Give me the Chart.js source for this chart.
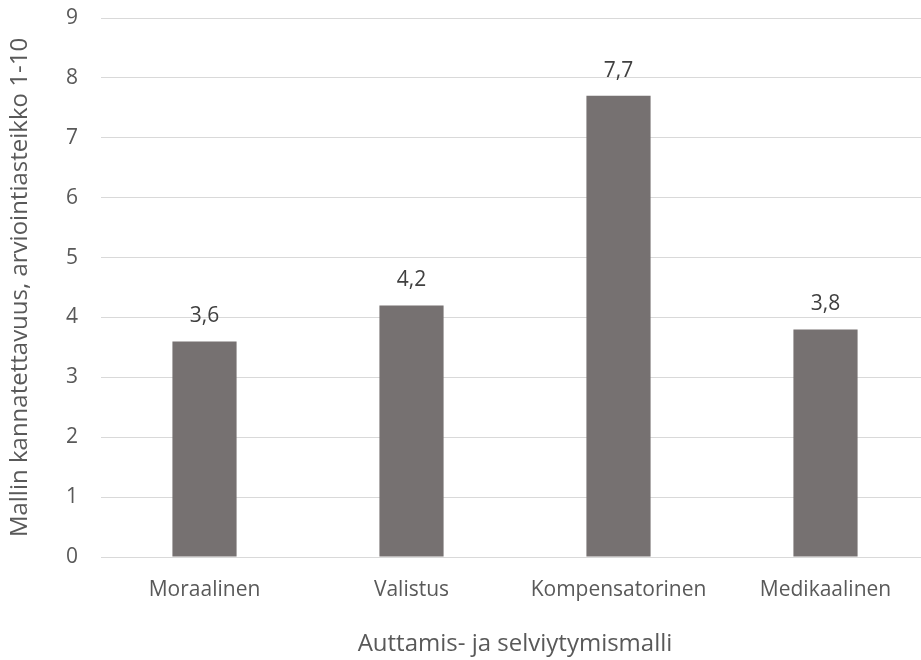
<!DOCTYPE html>
<html>
<head>
<meta charset="utf-8">
<script src="https://cdn.jsdelivr.net/npm/chart.js@4/dist/chart.umd.min.js"></script>
<style>
  html, body { margin: 0; padding: 0; background: #ffffff; overflow: hidden; }
  canvas { display: block; }
</style>
</head>
<body>
<canvas id="chart" width="929" height="660"></canvas>
<script>
// Support ratings of the four helping / coping models (scale 1-10)
const categories = ['Moraalinen', 'Valistus', 'Kompensatorinen', 'Medikaalinen'];
const ratings = [3.6, 4.2, 7.7, 3.8];
const yTicks = [0, 1, 2, 3, 4, 5, 6, 7, 8, 9];

const FONT = '"Open Sans", "Liberation Sans", sans-serif';
const TEXT = '#595959';

// Value labels above each bar, written with a decimal comma
const valueLabels = {
  id: 'valueLabels',
  afterDatasetsDraw(chart) {
    const ctx = chart.ctx;
    const meta = chart.getDatasetMeta(0);
    ctx.save();
    ctx.font = '21px ' + FONT;
    ctx.fillStyle = '#404040';
    ctx.textAlign = 'center';
    ctx.textBaseline = 'middle';
    meta.data.forEach((bar, i) => {
      const txt = ratings[i].toFixed(1).replace('.', ',');
      ctx.fillText(txt, bar.x, bar.y - 25);
    });
    ctx.restore();
  }
};

new Chart(document.getElementById('chart'), {
  type: 'bar',
  data: {
    labels: categories,
    datasets: [{
      data: ratings,
      backgroundColor: '#767171',
      borderWidth: 0,
      barPercentage: 0.31,
      categoryPercentage: 1.0
    }]
  },
  options: {
    responsive: false,
    animation: false,
    layout: { padding: { top: 18, right: 0, bottom: 0, left: 0 } },
    plugins: {
      legend: { display: false },
      tooltip: { enabled: false }
    },
    scales: {
      x: {
        offset: true,
        grid: { display: false, drawTicks: false },
        border: { display: true, color: '#d9d9d9', width: 1 },
        ticks: {
          color: TEXT,
          font: { family: FONT, size: 21 },
          padding: 20,
          maxRotation: 0
        },
        title: {
          display: true,
          text: 'Auttamis- ja selviytymismalli',
          color: TEXT,
          font: { family: FONT, size: 24 },
          padding: { top: 0, bottom: 1 }
        },
        afterFit(scale) { scale.height = 103; }
      },
      y: {
        min: 0,
        max: 9,
        afterBuildTicks(scale) {
          scale.ticks = yTicks.map(v => ({ value: v }));
        },
        grid: { color: '#d9d9d9', lineWidth: 1, drawTicks: false },
        border: { display: false },
        ticks: {
          color: TEXT,
          font: { family: FONT, size: 21 },
          padding: 23
        },
        title: {
          display: true,
          text: 'Mallin kannatettavuus, arviointiasteikko 1-10',
          color: TEXT,
          font: { family: FONT, size: 24 },
          padding: { top: 6, bottom: 0 }
        },
        afterFit(scale) {
          scale.width = 101;
          // the top label only needs the fixed layout padding above it
          scale.paddingTop = 0;
        }
      }
    }
  },
  plugins: [valueLabels]
});
</script>
</body>
</html>
